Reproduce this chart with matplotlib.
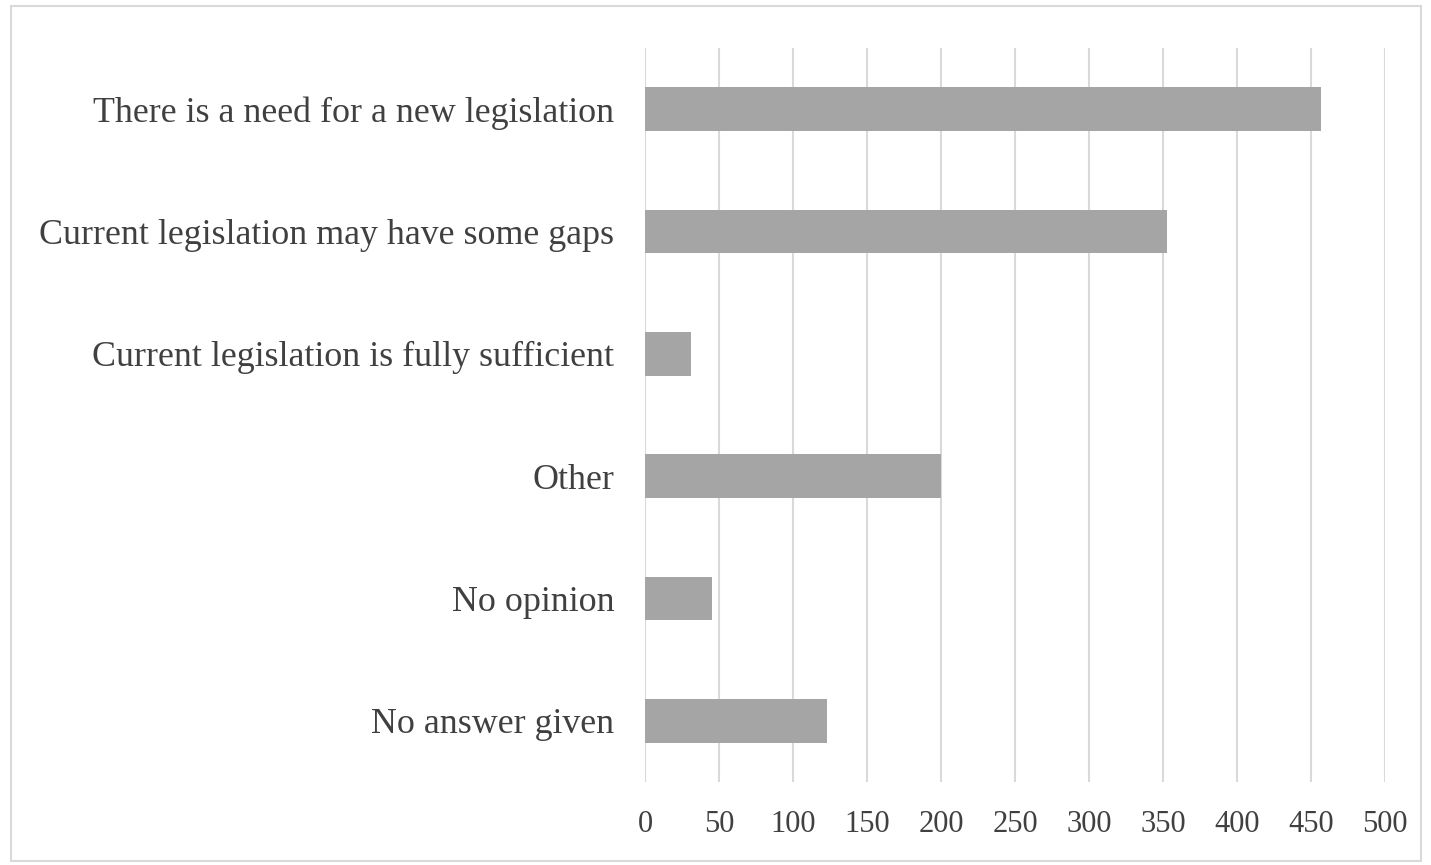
import matplotlib.pyplot as plt
from matplotlib.patches import Rectangle

categories = [
    "There is a need for a new legislation",
    "Current legislation may have some gaps",
    "Current legislation is fully sufficient",
    "Other",
    "No opinion",
    "No answer given",
]
counts = [457, 353, 31, 200, 45, 123]
xticks = [0, 50, 100, 150, 200, 250, 300, 350, 400, 450, 500]

plt.rcParams['font.family'] = ['Liberation Serif', 'DejaVu Serif']
text_color = '#404040'

fig = plt.figure(figsize=(14.31, 8.65), dpi=100)
ax = fig.add_axes([645 / 1431, 83 / 865, 740 / 1431, 734 / 865])

ypos = list(range(len(categories)))
ax.barh(ypos, counts, height=0.355, color='#a5a5a5', zorder=3)

ax.set_xlim(0, 500)
ax.set_ylim(len(categories) - 0.5, -0.5)
ax.set_yticks(ypos)
ax.set_yticklabels(categories)
ax.set_xticks(xticks)
ax.set_xticklabels([str(t) for t in xticks])

ax.tick_params(axis='both', length=0, colors=text_color)
ax.tick_params(axis='y', pad=22, labelsize=25.8)
ax.tick_params(axis='x', pad=20, labelsize=22)

ax.grid(axis='x', color='#d9d9d9', linewidth=1.5, zorder=0)
for s in ax.spines.values():
    s.set_visible(False)

# light frame around the chart area
fig.patches.append(Rectangle((11 / 1431, 4 / 865), 1410 / 1431, 855 / 865,
                             transform=fig.transFigure, fill=False,
                             edgecolor='#d9d9d9', linewidth=1.5))

fig.savefig('out.png', dpi=100)
